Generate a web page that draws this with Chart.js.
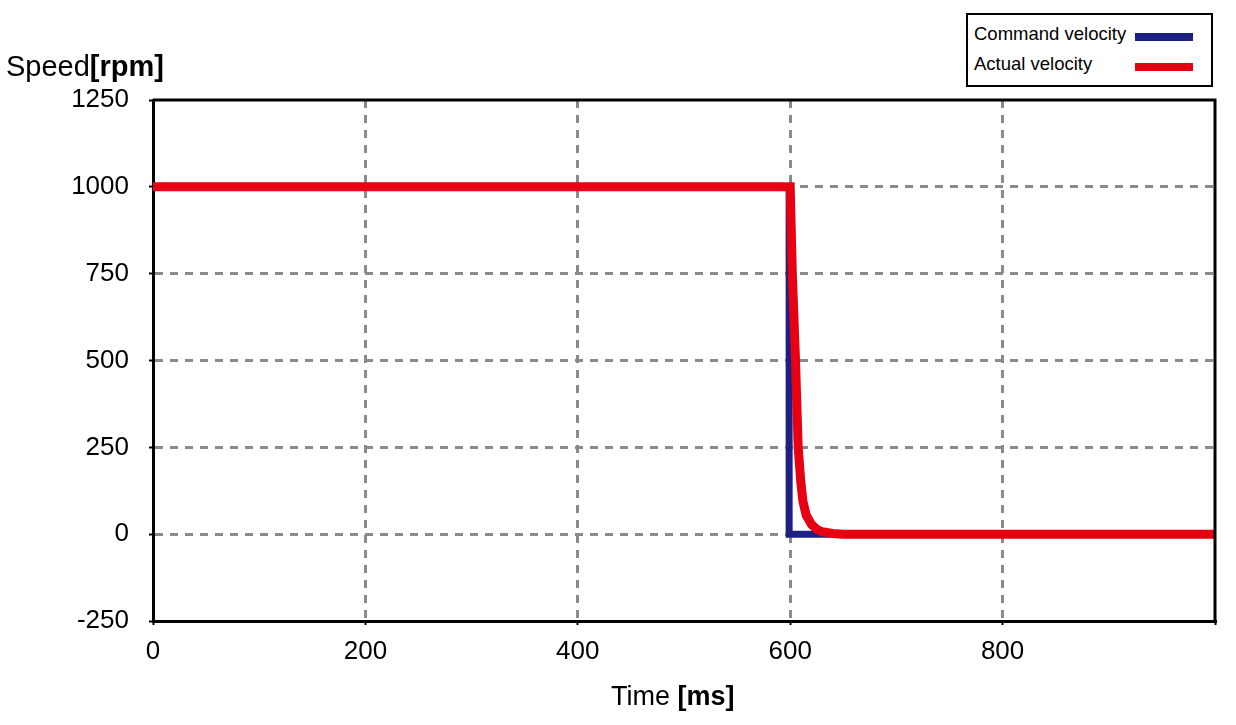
<!DOCTYPE html>
<html>
<head>
<meta charset="utf-8">
<script src="https://cdn.jsdelivr.net/npm/chart.js@4"></script>
<style>
  body { margin: 0; background: #fff; font-family: "Liberation Sans", Arial, sans-serif; }
  #wrap { position: relative; width: 1236px; height: 725px; }
  .lbl { position: absolute; white-space: nowrap; color: #000; }
  #ytitle { left: 6px; top: 50px; font-size: 29px; }
  #xtitle { left: 611px; top: 681px; font-size: 27px; }
  #legend { position: absolute; left: 966px; top: 13px; width: 243px; height: 70px; border: 2px solid #000; background: #fff; }
  .leg-text { position: absolute; left: 6px; font-size: 18.5px; }
  .leg-line { position: absolute; left: 167px; width: 58px; height: 8px; }
</style>
</head>
<body>
<div id="wrap">
  <canvas id="myChart" width="1236" height="725"></canvas>
  <div class="lbl" id="ytitle">Speed<b>[rpm]</b></div>
  <div class="lbl" id="xtitle">Time <b>[ms]</b></div>
  <div id="legend">
    <div class="leg-text" style="top:8px">Command velocity</div>
    <div class="leg-line" style="top:18px;background:#1d1f85"></div>
    <div class="leg-text" style="top:38px">Actual velocity</div>
    <div class="leg-line" style="top:48px;background:#e60012"></div>
  </div>
</div>
<script>
// 値は図から読み取り
const commandTime = [0, 599, 599, 1000];
const commandRpm = [1000, 1000, 0, 0];
const actualTime = [0, 600, 602, 605, 607.5, 610, 612, 615, 620, 625, 630, 640, 650, 1000];
const actualRpm = [1000, 1000, 750, 500, 250, 150, 95, 55, 28, 14, 7, 2, 0, 0];
const xTicks = [0, 200, 400, 600, 800, 1000];
const yTicks = [-250, 0, 250, 500, 750, 1000, 1250];

function toPoints(xs, ys) {
    return xs.map((x, i) => ({ x: x, y: ys[i] }));
}

// 上と右の枠線
const frame = {
    id: 'frame',
    afterDraw(chart) {
        const a = chart.chartArea;
        const c = chart.ctx;
        c.save();
        c.strokeStyle = '#000';
        c.lineWidth = 3;
        c.beginPath();
        c.moveTo(a.left, a.top);
        c.lineTo(a.right, a.top);
        c.lineTo(a.right, a.bottom);
        c.stroke();
        c.restore();
    }
};

const gridColor = (min, max) => (ctx) =>
    (ctx.tick && (ctx.tick.value === min || ctx.tick.value === max)) ? 'rgba(0,0,0,0)' : '#8a8a8a';

const ctx = document.getElementById('myChart').getContext('2d');
const myChart = new Chart(ctx, {
    type: 'line',
    data: {
        datasets: [{
            label: 'Command velocity',
            data: toPoints(commandTime, commandRpm),
            borderColor: '#1d1f85',
            borderWidth: 7,
            borderJoinStyle: 'miter',
            pointRadius: 0,
            tension: 0,
            order: 2
        }, {
            label: 'Actual velocity',
            data: toPoints(actualTime, actualRpm),
            borderColor: '#e60012',
            borderWidth: 9,
            borderJoinStyle: 'miter',
            pointRadius: 0,
            tension: 0,
            order: 1
        }]
    },
    options: {
        responsive: false,
        animation: false,
        layout: { padding: { top: 100, right: 21, left: 0, bottom: 0 } },
        plugins: { legend: { display: false }, tooltip: { enabled: false } },
        scales: {
            x: {
                type: 'linear',
                min: xTicks[0],
                max: xTicks[xTicks.length - 1],
                afterBuildTicks: (s) => { s.ticks = xTicks.map(v => ({ value: v })); },
                afterFit: (s) => { s.height = 104; },
                ticks: {
                    color: '#000',
                    padding: 11,
                    font: { family: '"Liberation Sans", Arial', size: 26 },
                    callback: (v) => v === 1000 ? '' : String(v)
                },
                grid: {
                    color: gridColor(0, 1000),
                    lineWidth: 3,
                    tickLength: 4,
                    tickColor: '#000',
                    tickWidth: 2
                },
                border: { display: true, color: '#000', width: 3, dash: [8, 7] }
            },
            y: {
                min: yTicks[0],
                max: yTicks[yTicks.length - 1],
                afterBuildTicks: (s) => { s.ticks = yTicks.map(v => ({ value: v })); },
                afterFit: (s) => { s.width = 153; },
                ticks: {
                    color: '#000',
                    padding: 20,
                    font: { family: '"Liberation Sans", Arial', size: 26 },
                    callback: (v) => String(v)
                },
                grid: {
                    color: gridColor(-250, 1250),
                    lineWidth: 3,
                    tickLength: 4,
                    tickColor: '#000',
                    tickWidth: 2
                },
                border: { display: true, color: '#000', width: 3, dash: [8, 7] }
            }
        }
    },
    plugins: [frame]
});
</script>
</body>
</html>
